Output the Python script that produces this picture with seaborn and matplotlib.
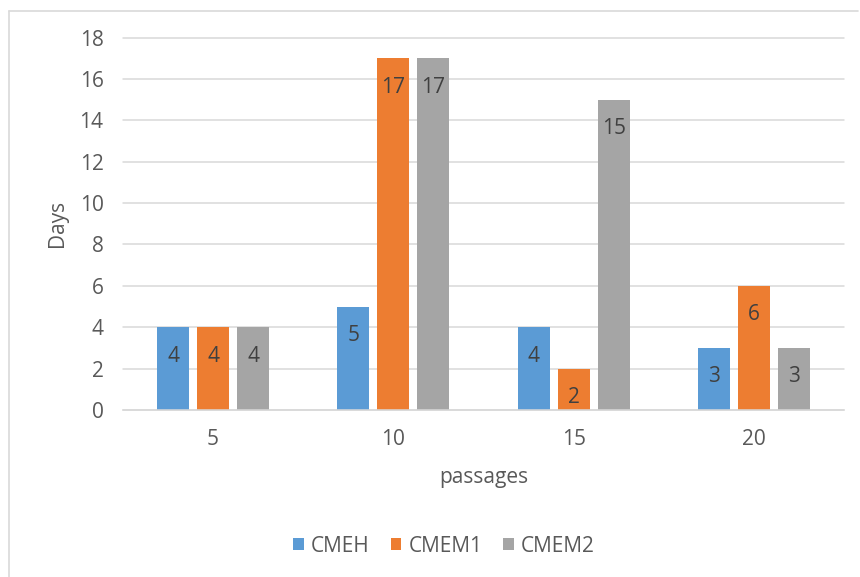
import matplotlib
matplotlib.use("Agg")
import matplotlib.pyplot as plt
from matplotlib.lines import Line2D
import pandas as pd
import seaborn as sns

# Data
passages = ["5", "10", "15", "20"]
series_names = ["CMEH", "CMEM1", "CMEM2"]
cmeh = [4, 5, 4, 3]
cmem1 = [4, 17, 2, 6]
cmem2 = [4, 17, 15, 3]
y_ticks = [0, 2, 4, 6, 8, 10, 12, 14, 16, 18]

colors = ["#5B9BD5", "#ED7D31", "#A5A5A5"]
text_grey = "#595959"
label_dark = "#404040"
grid_grey = "#D9D9D9"
FS = 15

sns.set_theme(style="white")
plt.rcParams["font.family"] = ["Open Sans", "DejaVu Sans"]

df = pd.DataFrame({
    "passages": passages * 3,
    "series": [s for s in series_names for _ in passages],
    "days": cmeh + cmem1 + cmem2,
})

W, H = 860, 577
fig = plt.figure(figsize=(W / 100, H / 100), dpi=100)
fig.patch.set_facecolor("white")

left, right, top, bottom = 123, 844, 37.5, 410
ax = fig.add_axes([left / W, 1 - bottom / H, (right - left) / W, (bottom - top) / H])

sns.barplot(data=df, x="passages", y="days", hue="series", order=passages,
            hue_order=series_names, palette=colors, width=0.667, gap=0.2,
            saturation=1, ax=ax, legend=True, errorbar=None, linewidth=0)

ax.set_xlim(-0.5, len(passages) - 0.5)
ax.set_ylim(0, 18)
ax.set_yticks(y_ticks)
ax.set_axisbelow(True)
ax.yaxis.grid(True, color=grid_grey, linewidth=1.1)
for gl in ax.yaxis.get_gridlines():
    gl.set_clip_on(False)
for side in ["top", "right", "left"]:
    ax.spines[side].set_visible(False)
ax.spines["bottom"].set_color(grid_grey)
ax.spines["bottom"].set_linewidth(1.1)
ax.tick_params(axis="both", length=0, labelsize=FS, labelcolor=text_grey)
ax.tick_params(axis="y", pad=14)
ax.tick_params(axis="x", pad=14)

ax.set_ylabel("Days", fontsize=FS, color=text_grey, va="center")
ax.yaxis.set_label_coords(-0.0915, 0.5)
ax.set_xlabel("passages", fontsize=FS, color=text_grey, va="center")
ax.xaxis.set_label_coords(0.5, -0.18)

# Value labels inside the top of each bar
for cont, vals in zip(ax.containers, [cmeh, cmem1, cmem2]):
    for bar, v in zip(cont, vals):
        ax.annotate(str(v), xy=(bar.get_x() + bar.get_width() / 2, v),
                    xytext=(0, -34.5 * 0.72), textcoords="offset points",
                    ha="center", va="baseline", fontsize=FS, color=label_dark)

handles, labels = ax.get_legend_handles_labels()
ax.legend_.remove()
fig.legend(handles, labels, loc="center", bbox_to_anchor=(444 / W, 1 - 546 / H),
           ncol=3, frameon=False, fontsize=FS, handlelength=0.5,
           handleheight=0.5, handletextpad=0.35, columnspacing=1.0,
           labelcolor=text_grey)

# Outer chart border
fig.add_artist(Line2D([8.5 / W, 8.5 / W], [0, 1 - 10.5 / H], transform=fig.transFigure,
                      color=grid_grey, linewidth=1.2))
fig.add_artist(Line2D([8.5 / W, 858 / W], [1 - 10.5 / H, 1 - 10.5 / H],
                      transform=fig.transFigure, color=grid_grey, linewidth=1.2))

fig.savefig("out.png", dpi=100, facecolor="white")
